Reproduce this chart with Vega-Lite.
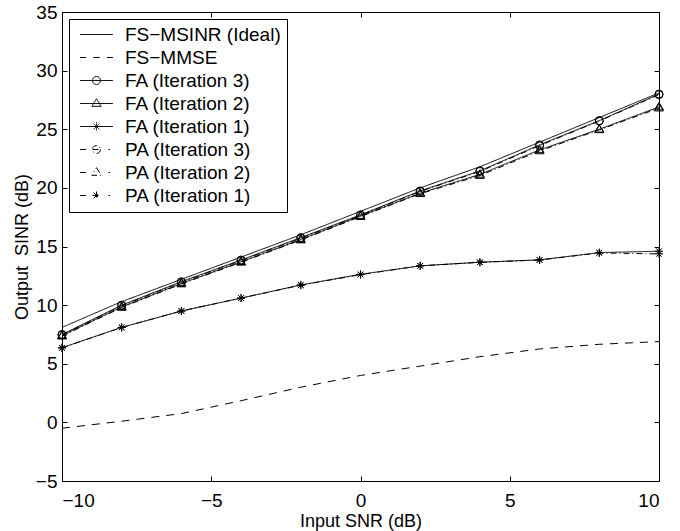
{
  "$schema": "https://vega.github.io/schema/vega-lite/v6.json",
  "width": 597,
  "height": 469,
  "autosize": {"type": "none"},
  "padding": {"left": 62, "top": 12, "right": 21, "bottom": 50},
  "background": "white",
  "config": {
    "font": "Liberation Sans",
    "view": {"stroke": "black", "strokeWidth": 1},
    "axis": {
      "grid": false,
      "domainColor": "black",
      "tickColor": "black",
      "tickSize": -5,
      "labelFont": "Liberation Sans",
      "labelFontSize": 19,
      "labelColor": "black",
      "titleFont": "Liberation Sans",
      "titleFontSize": 18,
      "titleFontWeight": "normal",
      "titleColor": "black"
    }
  },
  "data": {
    "values": [
      {"s": "FS−MSINR (Ideal)", "x": -10, "y": 8.1},
      {"s": "FS−MSINR (Ideal)", "x": -8, "y": 10.3},
      {"s": "FS−MSINR (Ideal)", "x": -6, "y": 12.2},
      {"s": "FS−MSINR (Ideal)", "x": -4, "y": 14.1},
      {"s": "FS−MSINR (Ideal)", "x": -2, "y": 16.0},
      {"s": "FS−MSINR (Ideal)", "x": 0, "y": 18.0},
      {"s": "FS−MSINR (Ideal)", "x": 2, "y": 20.0},
      {"s": "FS−MSINR (Ideal)", "x": 4, "y": 21.8},
      {"s": "FS−MSINR (Ideal)", "x": 6, "y": 23.9},
      {"s": "FS−MSINR (Ideal)", "x": 8, "y": 26.0},
      {"s": "FS−MSINR (Ideal)", "x": 10, "y": 28.1},
      {"s": "FS−MMSE", "x": -10, "y": -0.5},
      {"s": "FS−MMSE", "x": -8, "y": 0.1},
      {"s": "FS−MMSE", "x": -6, "y": 0.75},
      {"s": "FS−MMSE", "x": -4, "y": 1.85},
      {"s": "FS−MMSE", "x": -2, "y": 3.0},
      {"s": "FS−MMSE", "x": 0, "y": 4.0},
      {"s": "FS−MMSE", "x": 2, "y": 4.8},
      {"s": "FS−MMSE", "x": 4, "y": 5.6},
      {"s": "FS−MMSE", "x": 6, "y": 6.26},
      {"s": "FS−MMSE", "x": 8, "y": 6.66},
      {"s": "FS−MMSE", "x": 10, "y": 6.89},
      {"s": "FA (Iteration 3)", "x": -10, "y": 7.5},
      {"s": "FA (Iteration 3)", "x": -8, "y": 10.0},
      {"s": "FA (Iteration 3)", "x": -6, "y": 12.0},
      {"s": "FA (Iteration 3)", "x": -4, "y": 13.85},
      {"s": "FA (Iteration 3)", "x": -2, "y": 15.76},
      {"s": "FA (Iteration 3)", "x": 0, "y": 17.7},
      {"s": "FA (Iteration 3)", "x": 2, "y": 19.74},
      {"s": "FA (Iteration 3)", "x": 4, "y": 21.45},
      {"s": "FA (Iteration 3)", "x": 6, "y": 23.67},
      {"s": "FA (Iteration 3)", "x": 8, "y": 25.74},
      {"s": "FA (Iteration 3)", "x": 10, "y": 28.0},
      {"s": "FA (Iteration 2)", "x": -10, "y": 7.4},
      {"s": "FA (Iteration 2)", "x": -8, "y": 9.85},
      {"s": "FA (Iteration 2)", "x": -6, "y": 11.85},
      {"s": "FA (Iteration 2)", "x": -4, "y": 13.7},
      {"s": "FA (Iteration 2)", "x": -2, "y": 15.6},
      {"s": "FA (Iteration 2)", "x": 0, "y": 17.6},
      {"s": "FA (Iteration 2)", "x": 2, "y": 19.55},
      {"s": "FA (Iteration 2)", "x": 4, "y": 21.15},
      {"s": "FA (Iteration 2)", "x": 6, "y": 23.24},
      {"s": "FA (Iteration 2)", "x": 8, "y": 25.0},
      {"s": "FA (Iteration 2)", "x": 10, "y": 26.9},
      {"s": "FA (Iteration 1)", "x": -10, "y": 6.37},
      {"s": "FA (Iteration 1)", "x": -8, "y": 8.1},
      {"s": "FA (Iteration 1)", "x": -6, "y": 9.5},
      {"s": "FA (Iteration 1)", "x": -4, "y": 10.6},
      {"s": "FA (Iteration 1)", "x": -2, "y": 11.72},
      {"s": "FA (Iteration 1)", "x": 0, "y": 12.63},
      {"s": "FA (Iteration 1)", "x": 2, "y": 13.35},
      {"s": "FA (Iteration 1)", "x": 4, "y": 13.66},
      {"s": "FA (Iteration 1)", "x": 6, "y": 13.86},
      {"s": "FA (Iteration 1)", "x": 8, "y": 14.48},
      {"s": "FA (Iteration 1)", "x": 10, "y": 14.6},
      {"s": "PA (Iteration 3)", "x": -10, "y": 7.45},
      {"s": "PA (Iteration 3)", "x": -8, "y": 9.95},
      {"s": "PA (Iteration 3)", "x": -6, "y": 11.95},
      {"s": "PA (Iteration 3)", "x": -4, "y": 13.8},
      {"s": "PA (Iteration 3)", "x": -2, "y": 15.7},
      {"s": "PA (Iteration 3)", "x": 0, "y": 17.65},
      {"s": "PA (Iteration 3)", "x": 2, "y": 19.7},
      {"s": "PA (Iteration 3)", "x": 4, "y": 21.4},
      {"s": "PA (Iteration 3)", "x": 6, "y": 23.6},
      {"s": "PA (Iteration 3)", "x": 8, "y": 25.7},
      {"s": "PA (Iteration 3)", "x": 10, "y": 27.95},
      {"s": "PA (Iteration 2)", "x": -10, "y": 7.35},
      {"s": "PA (Iteration 2)", "x": -8, "y": 9.8},
      {"s": "PA (Iteration 2)", "x": -6, "y": 11.8},
      {"s": "PA (Iteration 2)", "x": -4, "y": 13.65},
      {"s": "PA (Iteration 2)", "x": -2, "y": 15.55},
      {"s": "PA (Iteration 2)", "x": 0, "y": 17.55},
      {"s": "PA (Iteration 2)", "x": 2, "y": 19.5},
      {"s": "PA (Iteration 2)", "x": 4, "y": 21.05},
      {"s": "PA (Iteration 2)", "x": 6, "y": 23.15},
      {"s": "PA (Iteration 2)", "x": 8, "y": 24.95},
      {"s": "PA (Iteration 2)", "x": 10, "y": 26.8},
      {"s": "PA (Iteration 1)", "x": -10, "y": 6.35},
      {"s": "PA (Iteration 1)", "x": -8, "y": 8.1},
      {"s": "PA (Iteration 1)", "x": -6, "y": 9.5},
      {"s": "PA (Iteration 1)", "x": -4, "y": 10.6},
      {"s": "PA (Iteration 1)", "x": -2, "y": 11.7},
      {"s": "PA (Iteration 1)", "x": 0, "y": 12.6},
      {"s": "PA (Iteration 1)", "x": 2, "y": 13.35},
      {"s": "PA (Iteration 1)", "x": 4, "y": 13.65},
      {"s": "PA (Iteration 1)", "x": 6, "y": 13.85},
      {"s": "PA (Iteration 1)", "x": 8, "y": 14.45},
      {"s": "PA (Iteration 1)", "x": 10, "y": 14.37}
    ]
  },
  "layer": [
    {
      "mark": {"type": "line", "color": "black", "strokeWidth": 1},
      "encoding": {
        "x": {
          "field": "x", "type": "quantitative",
          "scale": {"domain": [-10, 10], "nice": false, "zero": false},
          "axis": {"orient": "bottom", "values": [-10, -5, 0, 5, 10], "title": "Input SNR (dB)", "labelPadding": 15, "titlePadding": 2}
        },
        "y": {
          "field": "y", "type": "quantitative",
          "scale": {"domain": [-5, 35], "nice": false, "zero": false},
          "axis": {"orient": "left", "values": [-5, 0, 5, 10, 15, 20, 25, 30, 35], "title": "Output\u00a0 SINR (dB)", "labelPadding": 10, "titlePadding": 4}
        },
        "strokeDash": {
          "field": "s", "type": "nominal",
          "scale": {
            "domain": ["FS−MSINR (Ideal)", "FS−MMSE", "FA (Iteration 3)", "FA (Iteration 2)", "FA (Iteration 1)", "PA (Iteration 3)", "PA (Iteration 2)", "PA (Iteration 1)"],
            "range": [[1, 0], [8, 7], [1, 0], [1, 0], [1, 0], [6, 3, 1, 3], [6, 3, 1, 3], [6, 3, 1, 3]]
          },
          "legend": {
            "orient": "top-left",
            "offset": 7,
            "title": null,
            "fillColor": "white",
            "strokeColor": "black",
            "padding": 6,
            "cornerRadius": 0,
            "labelFont": "Liberation Sans",
            "labelFontSize": 19,
            "labelColor": "black",
            "labelOffset": 19,
            "symbolOffset": 12,
            "symbolSize": 256,
            "symbolStrokeWidth": 1,
            "symbolStrokeColor": "black",
            "symbolFillColor": "transparent",
            "rowPadding": 3,
            "encode": {
              "symbols": {
                "update": {
                  "shape": {"signal": "{'FS−MSINR (Ideal)': 'M-2.05,0L2.05,0', 'FS−MMSE': 'M-2.05,0L-1.3,0M-0.4,0L0.4,0M1.3,0L2.05,0', 'FA (Iteration 3)': 'M-2.05,0L2.05,0M0.5,0A0.5,0.5 0 1,1 -0.5,0A0.5,0.5 0 1,1 0.5,0', 'FA (Iteration 2)': 'M-2.05,0L2.05,0M0,-0.6L0.58,0.35L-0.58,0.35Z', 'FA (Iteration 1)': 'M-2.05,0L2.05,0M-0.5,0L0.5,0M0,-0.5L0,0.5M-0.36,-0.36L0.36,0.36M-0.36,0.36L0.36,-0.36', 'PA (Iteration 3)': 'M-2.05,0L-1.2,0M-0.5,0L0.5,0M0.5,0A0.5,0.5 0 1,1 -0.5,0A0.5,0.5 0 1,1 0.5,0M1.5,0L1.7,0', 'PA (Iteration 2)': 'M-2.05,0L-1.2,0M0,-0.6L0.58,0.35L-0.58,0.35ZM1.5,0L1.7,0', 'PA (Iteration 1)': 'M-2.05,0L-1.2,0M-0.5,0L0.5,0M0,-0.5L0,0.5M-0.36,-0.36L0.36,0.36M-0.36,0.36L0.36,-0.36M1.5,0L1.7,0'}[datum.value]"},
                  "strokeDash": {"value": [1, 0]},
                  "stroke": {"value": "black"},
                  "fill": {"value": "transparent"},
                  "strokeWidth": {"value": 1}
                }
              }
            }
          }
        }
      }
    },
    {
      "transform": [{"filter": "datum.s !== 'FS−MSINR (Ideal)' && datum.s !== 'FS−MMSE'"}],
      "mark": {"type": "point", "filled": false, "color": "black", "strokeWidth": 1, "size": 64, "opacity": 1},
      "encoding": {
        "x": {
          "field": "x", "type": "quantitative",
          "axis": {"orient": "top", "values": [-10, -5, 0, 5, 10], "labels": false, "title": null, "domain": false}
        },
        "y": {
          "field": "y", "type": "quantitative",
          "axis": {"orient": "right", "values": [-5, 0, 5, 10, 15, 20, 25, 30, 35], "labels": false, "title": null, "domain": false}
        },
        "shape": {
          "field": "s", "type": "nominal",
          "scale": {
            "domain": ["FA (Iteration 3)", "FA (Iteration 2)", "FA (Iteration 1)", "PA (Iteration 3)", "PA (Iteration 2)", "PA (Iteration 1)"],
            "range": ["circle", "M0,-1.15L1.1,0.7L-1.1,0.7Z", "M-1,0L1,0M0,-1L0,1M-0.7,-0.7L0.7,0.7M-0.7,0.7L0.7,-0.7", "circle", "M0,-1.15L1.1,0.7L-1.1,0.7Z", "M-1,0L1,0M0,-1L0,1M-0.7,-0.7L0.7,0.7M-0.7,0.7L0.7,-0.7"]
          },
          "legend": null
        }
      }
    }
  ]
}
